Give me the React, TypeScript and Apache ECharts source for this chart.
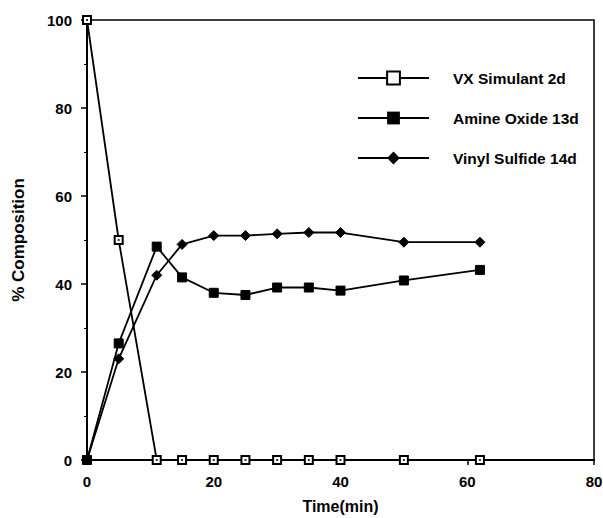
import React, { useEffect, useRef } from "react";
import * as echarts from "echarts";

const timeMin = [0, 5, 11, 15, 20, 25, 30, 35, 40, 50, 62];
const vxSimulant = [100, 50, 0, 0, 0, 0, 0, 0, 0, 0, 0];
const amineOxide = [0, 26.5, 48.5, 41.5, 38, 37.5, 39.2, 39.2, 38.5, 40.8, 43.2];
const vinylSulfide = [0, 23, 42, 49, 51, 51, 51.4, 51.7, 51.7, 49.5, 49.5];
const seriesNames = ["VX Simulant 2d", "Amine Oxide 13d", "Vinyl Sulfide 14d"];

const pairs = (ys: number[]) => timeMin.map((t, i) => [t, ys[i]]);

const FONT = "Liberation Sans";

export default function App() {
  const ref = useRef<HTMLDivElement>(null);
  useEffect(() => {
    if (!ref.current) return;
    const chart = echarts.init(ref.current, undefined, { renderer: "svg" });
    const lineBase = {
      type: "line" as const,
      color: "#000",
      lineStyle: { color: "#000", width: 1.8 },
      itemStyle: { color: "#000", borderColor: "#000" },
      z: 3,
    };
    chart.setOption({
      animation: false,
      backgroundColor: "#fff",
      textStyle: { fontFamily: FONT },
      grid: {
        left: 87,
        right: 9,
        top: 20,
        bottom: 58,
        containLabel: false,
        outerBoundsMode: "none",
        show: true,
        borderColor: "#000",
        borderWidth: 1.5,
      },
      legend: {
        orient: "vertical",
        left: 352,
        top: 65,
        itemWidth: 71,
        itemHeight: 16,
        itemGap: 24,
        data: seriesNames,
        textStyle: {
          fontFamily: FONT,
          fontWeight: "bold",
          fontSize: 15.5,
          color: "#000",
          padding: [0, 0, 0, 19],
        },
      },
      xAxis: {
        type: "value",
        min: 0,
        max: 80,
        interval: 20,
        name: "Time(min)",
        nameLocation: "middle",
        nameGap: 38,
        nameTextStyle: { fontFamily: FONT, fontWeight: "bold", fontSize: 16, color: "#000" },
        axisLine: { show: true, lineStyle: { color: "#000", width: 2 } },
        axisTick: { show: true, length: 5, lineStyle: { color: "#000", width: 1.5 } },
        axisLabel: { fontFamily: FONT, fontWeight: "bold", fontSize: 15, color: "#000", margin: 14 },
        splitLine: { show: false },
      },
      yAxis: {
        type: "value",
        min: 0,
        max: 100,
        interval: 20,
        name: "% Composition",
        nameLocation: "middle",
        nameGap: 60,
        nameRotate: 90,
        nameTextStyle: { fontFamily: FONT, fontWeight: "bold", fontSize: 17, color: "#000" },
        axisLine: { show: true, lineStyle: { color: "#000", width: 2 } },
        axisTick: { show: true, length: 6, lineStyle: { color: "#000", width: 1.5 } },
        minorTick: { show: true, splitNumber: 2, length: 3, lineStyle: { color: "#000", width: 1 } },
        axisLabel: { fontFamily: FONT, fontWeight: "bold", fontSize: 15, color: "#000", margin: 15 },
        splitLine: { show: false },
      },
      series: [
        {
          ...lineBase,
          name: seriesNames[0],
          data: pairs(vxSimulant),
          symbol: "emptyRect",
          symbolSize: 8,
          itemStyle: { color: "#000", borderColor: "#000", borderWidth: 1.8 },
        },
        {
          ...lineBase,
          name: seriesNames[1],
          data: pairs(amineOxide),
          symbol: "rect",
          symbolSize: 9,
        },
        {
          ...lineBase,
          name: seriesNames[2],
          data: pairs(vinylSulfide),
          symbol: "diamond",
          symbolSize: 10,
        },
        {
          type: "scatter",
          name: "vx-dot",
          data: pairs(vxSimulant),
          symbol: "rect",
          symbolSize: 2,
          itemStyle: { color: "#000" },
          silent: true,
          z: 5,
        },
      ],
    });
    return () => chart.dispose();
  }, []);
  return (
    <div
      ref={ref}
      style={{ position: "absolute", left: 0, top: 0, width: 603, height: 518 }}
    />
  );
}
